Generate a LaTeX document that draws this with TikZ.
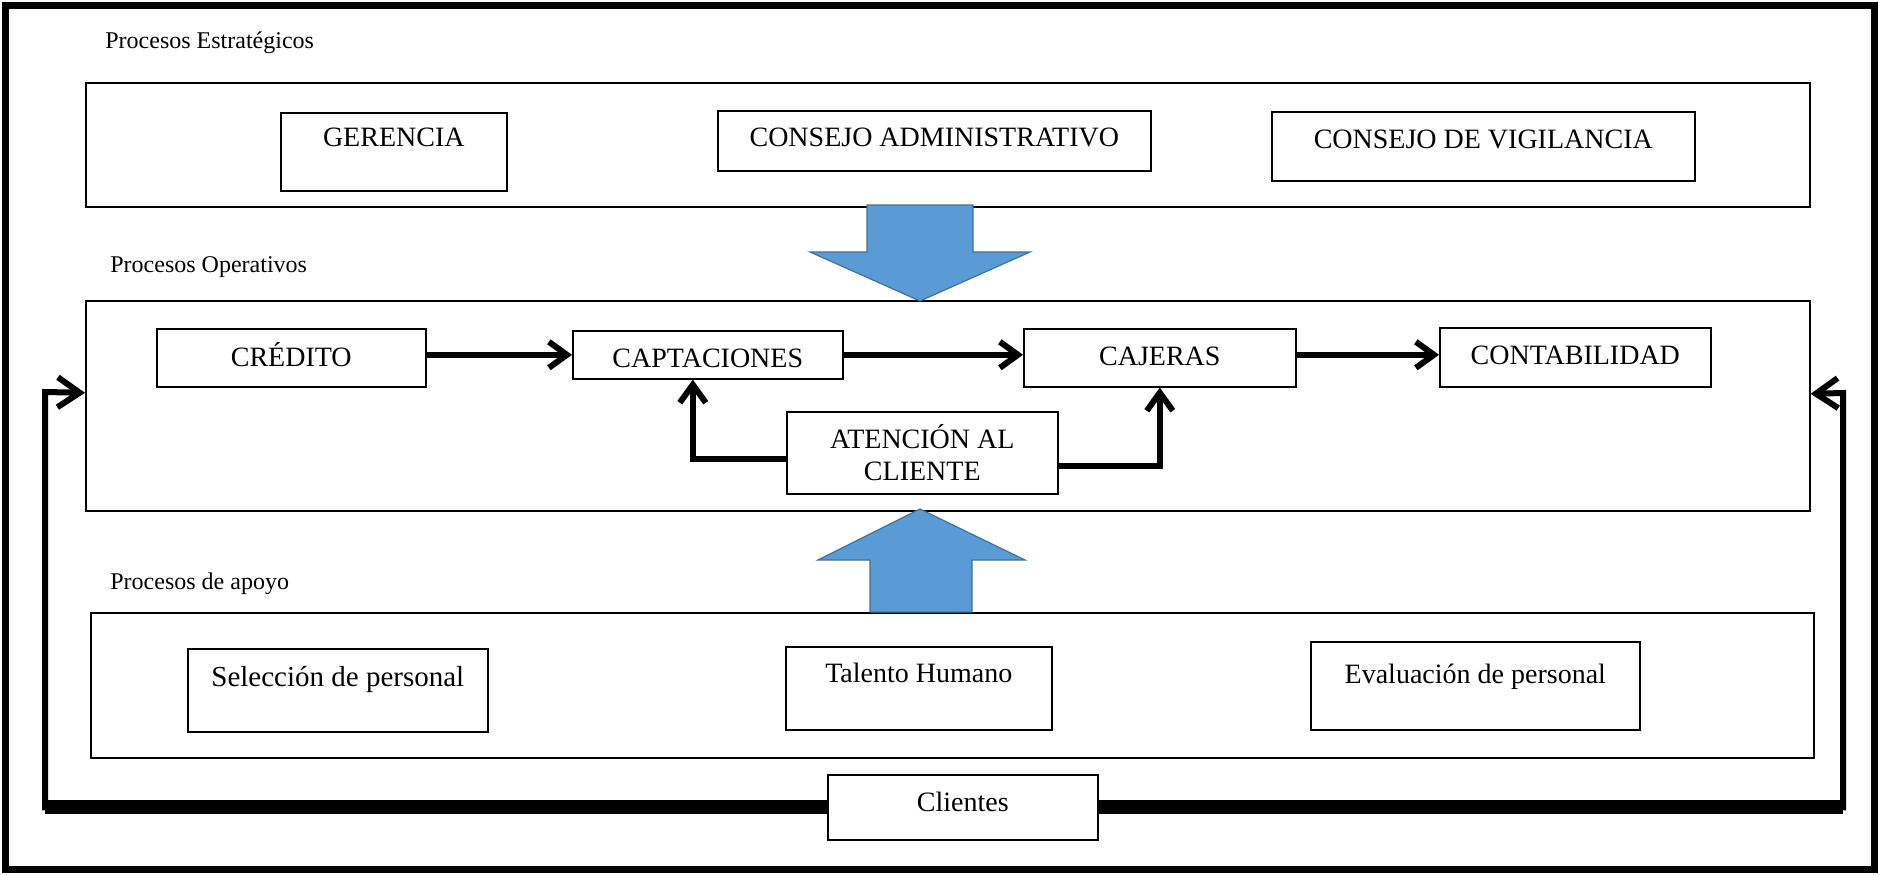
\documentclass[tikz,border=0pt]{standalone}
\usepackage{fontspec}
\setmainfont{Liberation Serif}
\usepackage{tikz}
\usetikzlibrary{arrows.meta}
\usetikzlibrary{calc}

\definecolor{azulflecha}{RGB}{91,155,213}
\definecolor{azulborde}{RGB}{65,113,156}

\begin{document}
\begin{tikzpicture}[x=0.5pt,y=-0.5pt,
    grupo/.style={draw,line width=0.8pt,anchor=north west,inner sep=0pt},
    caja/.style={draw,fill=white,line width=0.8pt,anchor=north west,inner sep=0pt,font=\fontsize{14}{16}\selectfont},
    etiqueta/.style={anchor=base west,inner sep=0pt,font=\fontsize{12}{14}\selectfont},
    flujo/.style={line width=3pt,-{Straight Barb[length=9pt,width=13pt]}},
    retorno/.style={line width=3pt,-{Straight Barb[length=11pt,width=15pt]}},
    bloque/.style={fill=azulflecha,draw=azulborde,line width=0.6pt}]
      \useasboundingbox (0,0) rectangle (1879,874);
      \draw[line width=3.5pt] (5,5) rectangle (1874,869);

      % grupos de procesos
      \node[etiqueta] (lblEstrategicos) at (105,48) {Procesos Estratégicos};
      \node[grupo,minimum width=862pt,minimum height=62pt] (estrategicos) at (85,82) {};
      \node[etiqueta] (lblOperativos) at (110,272) {Procesos Operativos};
      \node[grupo,minimum width=862pt,minimum height=105pt] (operativos) at (85,300) {};
      \node[etiqueta] (lblApoyo) at (110,589) {Procesos de apoyo};
      \node[grupo,minimum width=861.5pt,minimum height=72.5pt] (apoyo) at (90,612) {};

      % estrategicos
      \node[caja,minimum width=113pt,text height=17pt,text depth=22pt] (gerencia) at (280,112) {GERENCIA};
      \node[caja,minimum width=216.5pt,text height=18pt,text depth=12pt] (consejoAdm) at (717,110) {CONSEJO ADMINISTRATIVO};
      \node[caja,minimum width=211.5pt,text height=18.5pt,text depth=16pt] (consejoVig) at (1271,111) {CONSEJO DE VIGILANCIA};

      % operativos
      \node[caja,minimum width=134.5pt,text height=19pt,text depth=10pt] (credito) at (156,328) {CRÉDITO};
      \node[caja,minimum width=135pt,text height=18.5pt,text depth=5.5pt] (captaciones) at (572,330) {CAPTACIONES};
      \node[caja,minimum width=136pt,text height=18.5pt,text depth=10.5pt] (cajeras) at (1023,328) {CAJERAS};
      \node[caja,minimum width=135.5pt,text height=18.5pt,text depth=11pt] (contabilidad) at (1439,327) {CONTABILIDAD};
      \node[caja,minimum width=135.5pt,minimum height=41pt,align=center] (atencion) at (786,411) {ATENCIÓN AL\\CLIENTE};

      % apoyo
      \node[caja,minimum width=150pt,text height=19pt,text depth=22.5pt,font=\fontsize{14.5}{16}\selectfont] (seleccion) at (187,648) {Selección de personal};
      \node[caja,minimum width=133pt,text height=18pt,text depth=23.5pt] (talento) at (785,646) {Talento Humano};
      \node[caja,minimum width=164.5pt,text height=21pt,text depth=23pt] (evaluacion) at (1310,641) {Evaluación de personal};

      % flechas azules
      \draw[bloque] (867,205) -- (973,205) -- (973,252) -- (1030,252) -- (920,301) -- (810,252) -- (867,252) -- cycle;
      \draw[bloque] (870,612) -- (972,612) -- (972,560) -- (1025,560) -- (920,509) -- (818,560) -- (870,560) -- cycle;

      \draw[flujo] (credito.east |- captaciones.west) -- (captaciones.west);
      \draw[flujo] (captaciones.east) -- (cajeras.west |- captaciones.east);
      \draw[flujo] (cajeras.east |- captaciones.east) -- (contabilidad.west |- captaciones.east);
      \draw[flujo] ([yshift=-3pt]atencion.west) -| ([xshift=-7.5pt]captaciones.south);
      \draw[flujo] ([yshift=-6.5pt]atencion.east) -| (cajeras.south);

      % clientes
      \node[caja,minimum width=135pt,text height=18.5pt,text depth=14pt] (clientes) at (827,774) {Clientes};
      \coordinate (retIzq) at (45,392);
      \coordinate (retDer) at (1843,393);
      \draw[line width=7pt] (clientes.west) -- (retIzq |- clientes.west);
      \draw[line width=7pt] (clientes.east) -- (retDer |- clientes.east);
      \draw[retorno] ([xshift=-4pt]clientes.west) -| (retIzq) -- ([yshift=6.5pt]operativos.west);
      \draw[retorno] ([xshift=4pt]clientes.east) -| (retDer) -- ([yshift=6pt]operativos.east);
    \end{tikzpicture}
\end{document}
